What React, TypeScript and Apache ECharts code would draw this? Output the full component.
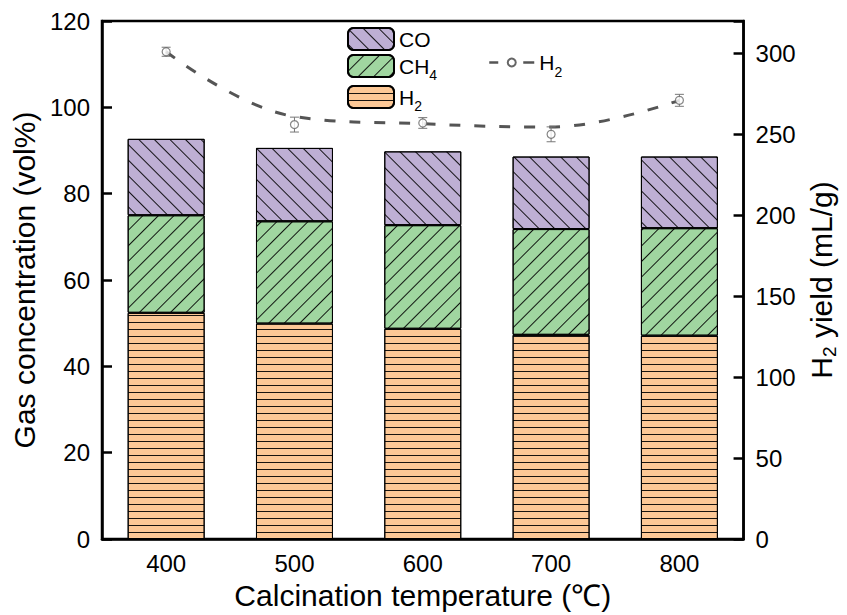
import React, { useEffect, useRef } from 'react';
import * as echarts from 'echarts';

const categories = ['400', '500', '600', '700', '800'];
const h2Conc = [52.4, 49.9, 48.7, 47.3, 47.1];
const ch4Conc = [22.6, 23.7, 24.0, 24.5, 24.9];
const coConc = [17.7, 17.0, 17.1, 16.8, 16.6];
const h2Yield = [301, 256, 257, 250, 271];
const h2YieldErr = [2.8, 4.6, 3.3, 4.6, 3.7];
const h2YieldTrend = [301, 261, 256.5, 254.5, 271];
const leftTicks = { min: 0, max: 120, interval: 20 };
const rightTicks = { min: 0, max: 320, interval: 50 };

const FONT = '"Liberation Sans", Arial, Helvetica, sans-serif';

const hatch = (rotation: number, gap: number) => ({
  symbol: 'rect',
  symbolSize: 1,
  color: 'rgba(0,0,0,0.9)',
  dashArrayX: [1, 0],
  dashArrayY: [1, gap],
  rotation,
});

const richSub = {
  n: { fontSize: 21, fontFamily: FONT, color: '#000' },
  s: { fontSize: 14, fontFamily: FONT, color: '#000', padding: [18, 0, 0, 0] },
};

const legendFormatter = (name: string) => {
  if (name === 'CH4') return '{n|CH}{s|4}';
  if (name === 'H2' || name === 'H2 yield') return '{n|H}{s|2}';
  return '{n|' + name + '}';
};

export default function App() {
  const ref = useRef<HTMLDivElement>(null);
  useEffect(() => {
    const chart = echarts.init(ref.current!, null, { renderer: 'svg' });
    const errData = categories.map((_, i) => [i, h2Yield[i] - h2YieldErr[i], h2Yield[i] + h2YieldErr[i]]);
    const option: any = {
      animation: false,
      backgroundColor: '#fff',
      textStyle: { fontFamily: FONT },
      grid: {
        left: 102, right: 102, top: 21, bottom: 74,
        show: true, borderColor: '#000', borderWidth: 2.5, backgroundColor: 'transparent',
      },
      legend: [
        {
          orient: 'vertical', left: 347, top: 27, itemWidth: 46, itemHeight: 22, itemGap: 3,
          padding: 0, selectedMode: false,
          data: ['CO', 'CH4', 'H2'],
          formatter: legendFormatter,
          textStyle: { fontSize: 21, color: '#000', rich: richSub },
        },
        {
          left: 488, top: 52, itemWidth: 45, itemHeight: 10, padding: 0, selectedMode: false,
          data: ['H2 yield'],
          formatter: legendFormatter,
          textStyle: { fontSize: 21, color: '#000', rich: richSub },
          lineStyle: { type: [9, 25, 11, 0], width: 2.5, color: '#555' },
        },
      ],
      xAxis: {
        type: 'category',
        data: categories,
        name: 'Calcination temperature (℃)',
        nameLocation: 'middle',
        nameGap: 41,
        nameTextStyle: { fontSize: 30, color: '#000', fontFamily: FONT },
        axisLine: { lineStyle: { color: '#000', width: 2.5 } },
        axisTick: { inside: true, alignWithLabel: true, length: 8, lineStyle: { color: '#000', width: 2.5 } },
        axisLabel: { fontSize: 24, color: '#000', margin: 12, fontFamily: FONT },
        splitLine: { show: false },
      },
      yAxis: [
        {
          type: 'value',
          ...leftTicks,
          name: 'Gas concentration (vol%)',
          nameLocation: 'middle',
          nameGap: 60,
          nameTextStyle: { fontSize: 30, color: '#000', fontFamily: FONT },
          axisLine: { show: true, lineStyle: { color: '#000', width: 2.5 } },
          axisTick: { show: true, inside: true, length: 10, lineStyle: { color: '#000', width: 2.5 } },
          axisLabel: { fontSize: 24, color: '#000', margin: 12, fontFamily: FONT },
          splitLine: { show: false },
        },
        {
          type: 'value',
          ...rightTicks,
          position: 'right',
          name: '{n|H}{s|2}{n| yield (mL/g)}',
          nameLocation: 'middle',
          nameGap: 57,
          nameRotate: 90,
          nameTextStyle: {
            rich: {
              n: { fontSize: 30, color: '#000', fontFamily: FONT },
              s: { fontSize: 19, color: '#000', fontFamily: FONT, padding: [16, 0, 0, 0] },
            },
          },
          axisLine: { show: true, lineStyle: { color: '#000', width: 2.5 } },
          axisTick: { show: true, inside: true, length: 10, lineStyle: { color: '#000', width: 2.5 } },
          axisLabel: {
            fontSize: 24, color: '#000', margin: 12, fontFamily: FONT,
            formatter: (v: number) => (v > 300 ? '' : String(v)),
          },
          splitLine: { show: false },
        },
      ],
      series: [
        {
          name: 'H2', type: 'bar', stack: 'gas', barWidth: '60%', data: h2Conc,
          itemStyle: { color: '#FDC896', borderColor: '#000', borderWidth: 1, decal: hatch(0, 6) },
        },
        {
          name: 'CH4', type: 'bar', stack: 'gas', barWidth: '60%', data: ch4Conc,
          itemStyle: { color: '#A0D6A0', borderColor: '#000', borderWidth: 1, decal: hatch(-Math.PI / 4, 9.2) },
        },
        {
          name: 'CO', type: 'bar', stack: 'gas', barWidth: '60%', data: coConc,
          itemStyle: { color: '#BEAFD4', borderColor: '#000', borderWidth: 1, decal: hatch(Math.PI / 4, 9.2) },
        },
        {
          name: 'H2 yield', type: 'line', yAxisIndex: 1, data: h2YieldTrend, smooth: 0.4,
          symbol: 'emptyCircle', symbolSize: 8, showSymbol: false, z: 4,
          lineStyle: { color: '#555', width: 3, type: [11, 14] },
          itemStyle: { color: '#666' },
        },
        {
          name: 'err', type: 'custom', yAxisIndex: 1, z: 5,
          data: errData,
          encode: { x: 0, y: [1, 2] },
          renderItem: (params: any, api: any) => {
            const lo = api.coord([api.value(0), api.value(1)]);
            const hi = api.coord([api.value(0), api.value(2)]);
            const hw = 4.5;
            const style = { stroke: '#777', lineWidth: 1, fill: 'none' };
            return {
              type: 'group',
              children: [
                { type: 'line', shape: { x1: lo[0], y1: lo[1], x2: hi[0], y2: hi[1] }, style },
                { type: 'line', shape: { x1: lo[0] - hw, y1: lo[1], x2: lo[0] + hw, y2: lo[1] }, style },
                { type: 'line', shape: { x1: hi[0] - hw, y1: hi[1], x2: hi[0] + hw, y2: hi[1] }, style },
              ],
            };
          },
        },
        {
          name: 'points', type: 'scatter', yAxisIndex: 1, data: h2Yield, z: 6,
          symbol: 'circle', symbolSize: 8,
          itemStyle: { color: '#fff', borderColor: '#666', borderWidth: 1.2 },
        },
      ],
    };
    chart.setOption(option);
    return () => chart.dispose();
  }, []);
  return <div ref={ref} style={{ position: 'fixed', left: 0, top: 0, width: 847, height: 615 }} />;
}
